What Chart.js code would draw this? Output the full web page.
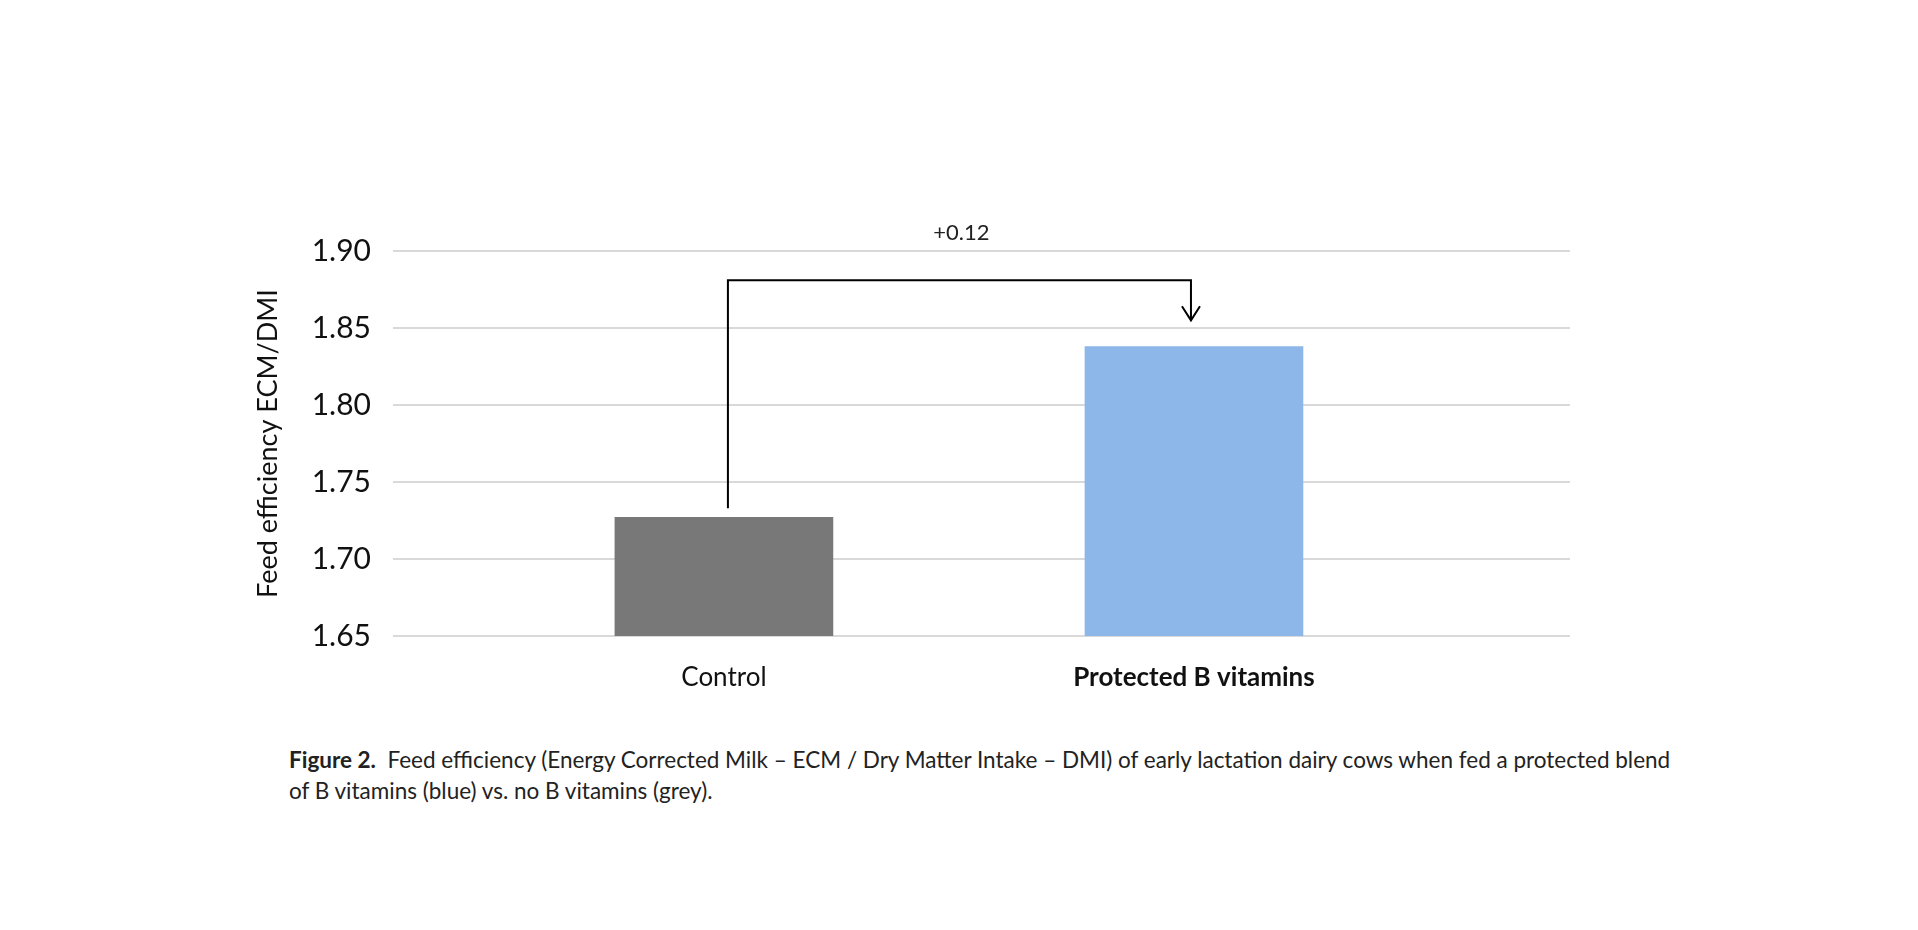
<!DOCTYPE html>
<html>
<head>
<meta charset="utf-8">
<script src="https://cdn.jsdelivr.net/npm/chart.js@4"></script>
<style>
	body { margin: 0; background: #fff; font-family: Lato, "Noto Sans", sans-serif; }
	#wrap { position: absolute; left: 0; top: 0; width: 1918px; height: 720px; }
	#caption { position: absolute; left: 289px; top: 744px; width: 1385px; font-size: 22.5px; line-height: 31px; color: #222; }
</style>
</head>
<body>
<div id="wrap"><canvas id="c"></canvas></div>
<div id="caption"><b>Figure 2.</b>&nbsp; Feed efficiency (Energy Corrected Milk – ECM / Dry Matter Intake – DMI) of early lactation dairy cows when fed a protected blend of B vitamins (blue) vs. no B vitamins (grey).</div>
<script>
const categories = ["Control", "Protected B vitamins"];
const values = [1.727, 1.838];
const colors = ["#787878", "#8db6e9"];
const yTicks = [1.65, 1.70, 1.75, 1.80, 1.85, 1.90];
const diffLabel = "+0.12";

const bracket = {
	id: "bracket",
	afterDatasetsDraw(chart) {
		const { ctx, scales: { x, y } } = chart;
		const x0 = x.getPixelForValue(0) + 4;
		const x1 = x.getPixelForValue(1) - 3;
		const yStart = y.getPixelForValue(1.733);
		const yTop = y.getPixelForValue(1.881);
		const yEnd = y.getPixelForValue(1.855);
		ctx.save();
		ctx.strokeStyle = "#000";
		ctx.lineWidth = 2;
		ctx.beginPath();
		ctx.moveTo(x0, yStart);
		ctx.lineTo(x0, yTop);
		ctx.lineTo(x1, yTop);
		ctx.lineTo(x1, yEnd);
		ctx.moveTo(x1 - 9, yEnd - 14);
		ctx.lineTo(x1, yEnd);
		ctx.lineTo(x1 + 9, yEnd - 14);
		ctx.stroke();
		ctx.fillStyle = "#222";
		ctx.font = "22px Lato";
		ctx.textAlign = "center";
		ctx.textBaseline = "middle";
		ctx.fillText(diffLabel, (x0 + x1) / 2 + 2, y.getPixelForValue(1.912));
		ctx.restore();
	}
};

new Chart(document.getElementById("c"), {
	type: "bar",
	data: {
		datasets: [{
			data: values.map((v, i) => ({ x: i, y: v })),
			backgroundColor: colors,
			barThickness: 218
		}]
	},
	options: {
		responsive: true,
		maintainAspectRatio: false,
		animation: false,
		layout: { padding: { left: 250, right: 348, top: 251, bottom: 0 } },
		plugins: { legend: { display: false }, tooltip: { enabled: false } },
		scales: {
			x: {
				type: "linear",
				offset: false,
				min: -0.687,
				max: 1.8,
				afterBuildTicks: s => { s.ticks = categories.map((_, i) => ({ value: i })); },
				afterFit: s => { s.height = 84; },
				grid: { display: false, offset: false },
				border: { display: false },
				ticks: {
					padding: 18,
					color: "#111",
					font: c => ({ family: "Lato", size: 26, weight: c.index === 1 ? "bold" : "normal" }),
					callback: v => categories[v]
				}
			},
			y: {
				min: 1.65,
				max: 1.90,
				afterBuildTicks: s => { s.ticks = yTicks.map(v => ({ value: v })); },
				afterFit: s => { s.width = 151; },
				border: { display: false },
				grid: { color: "#d9d9d9", lineWidth: 2 },
				ticks: {
					padding: 22,
					color: "#111",
					font: { family: "Lato", size: 30 },
					callback: v => v.toFixed(2)
				},
				title: {
					display: true,
					text: "Feed efficiency ECM/DMI",
					color: "#111",
					font: { family: "Lato", size: 27 },
					padding: 2
				}
			}
		}
	},
	plugins: [bracket]
});
</script>
</body>
</html>
